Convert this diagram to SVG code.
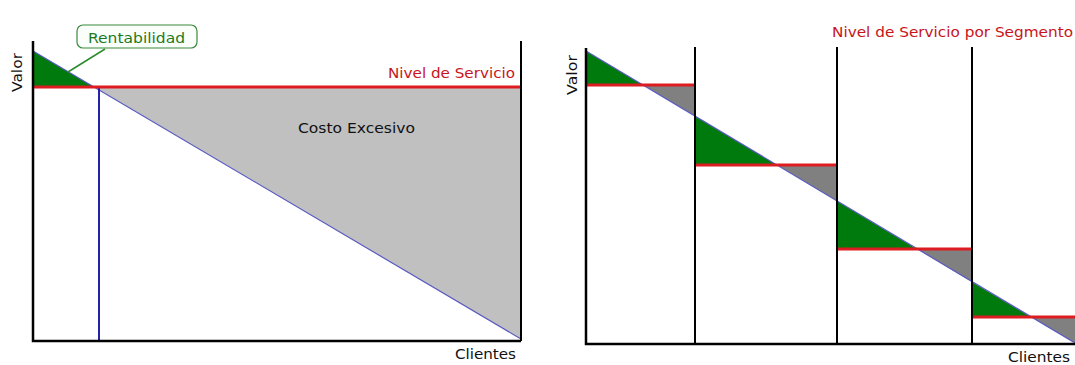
<svg xmlns="http://www.w3.org/2000/svg" width="1075" height="365" viewBox="0 0 1075 365">
<style>
text{font-family:"DejaVu Sans","Liberation Sans",sans-serif;}
.lbl{font-size:14px;fill:#111;}
.red{font-size:14px;fill:#c8141c;}
.axis{stroke:#000;stroke-width:2.5;fill:none;}
.div{stroke:#000;stroke-width:2;fill:none;}
.svc{stroke:#dd1c22;stroke-width:3;fill:none;}
.gr{fill:#007a0c;}
.diag{stroke:#5a5ac0;stroke-width:1.2;fill:none;}
</style>
<rect width="1075" height="365" fill="#fff"/>
<g id="left-chart">
  <polygon points="94,87 521,87 521,339" fill="#c0c0c0"/>
  <polygon class="gr" points="33,51 33,87 94,87"/>
  <line class="diag" x1="33" y1="51" x2="521" y2="339"/>
  <line x1="99" y1="87" x2="99" y2="341" stroke="#2222aa" stroke-width="2"/>
  <line class="svc" x1="33" y1="87" x2="521" y2="87"/>
  <polyline class="axis" points="33,41 33,341 521,341"/>
  <line class="div" x1="521" y1="41" x2="521" y2="341"/>
  <text class="red" x="515" y="78" text-anchor="end" textLength="127" lengthAdjust="spacingAndGlyphs">Nivel de Servicio</text>
  <text class="lbl" x="298" y="133" textLength="117" lengthAdjust="spacingAndGlyphs">Costo Excesivo</text>
  <text class="lbl" x="455" y="359" textLength="61" lengthAdjust="spacingAndGlyphs">Clientes</text>
  <text class="lbl" transform="translate(22,92) rotate(-90)" textLength="39" lengthAdjust="spacingAndGlyphs">Valor</text>
</g>
<g id="rentabilidad">
  <line x1="105" y1="49" x2="68" y2="72" stroke="#2e8b2e" stroke-width="1.5"/>
  <rect x="77" y="25" width="120" height="23" rx="6" ry="6" fill="#fbfffb" stroke="#3a8a3a" stroke-width="1.2"/>
  <text x="88" y="43" font-size="14" fill="#1e7a1e" textLength="97" lengthAdjust="spacingAndGlyphs">Rentabilidad</text>
</g>
<g id="right-chart">
  <polygon points="643,85 695,85 695,116" fill="#808080"/>
  <polygon points="777,165 837,165 837,201" fill="#808080"/>
  <polygon points="917,249 972,249 972,282" fill="#808080"/>
  <polygon points="1031,317 1075,317 1075,343" fill="#808080"/>
  <polygon class="gr" points="586,51 586,85 643,85"/>
  <polygon class="gr" points="695,116 695,165 777,165"/>
  <polygon class="gr" points="837,201 837,249 917,249"/>
  <polygon class="gr" points="972,282 972,317 1031,317"/>
  <line class="diag" x1="586" y1="51" x2="1075" y2="343"/>
  <line class="svc" x1="586" y1="85" x2="695" y2="85"/>
  <line class="svc" x1="695" y1="165" x2="837" y2="165"/>
  <line class="svc" x1="837" y1="249" x2="972" y2="249"/>
  <line class="svc" x1="972" y1="317" x2="1075" y2="317"/>
  <polyline class="axis" points="586,48 586,344 1075,344"/>
  <line class="div" x1="695" y1="47" x2="695" y2="344"/>
  <line class="div" x1="837" y1="47" x2="837" y2="344"/>
  <line class="div" x1="972" y1="47" x2="972" y2="344"/>
  <text class="red" x="832" y="37" textLength="241" lengthAdjust="spacingAndGlyphs">Nivel de Servicio por Segmento</text>
  <text class="lbl" x="1008" y="362" textLength="62" lengthAdjust="spacingAndGlyphs">Clientes</text>
  <text class="lbl" transform="translate(577,95) rotate(-90)" textLength="40" lengthAdjust="spacingAndGlyphs">Valor</text>
</g>
</svg>
